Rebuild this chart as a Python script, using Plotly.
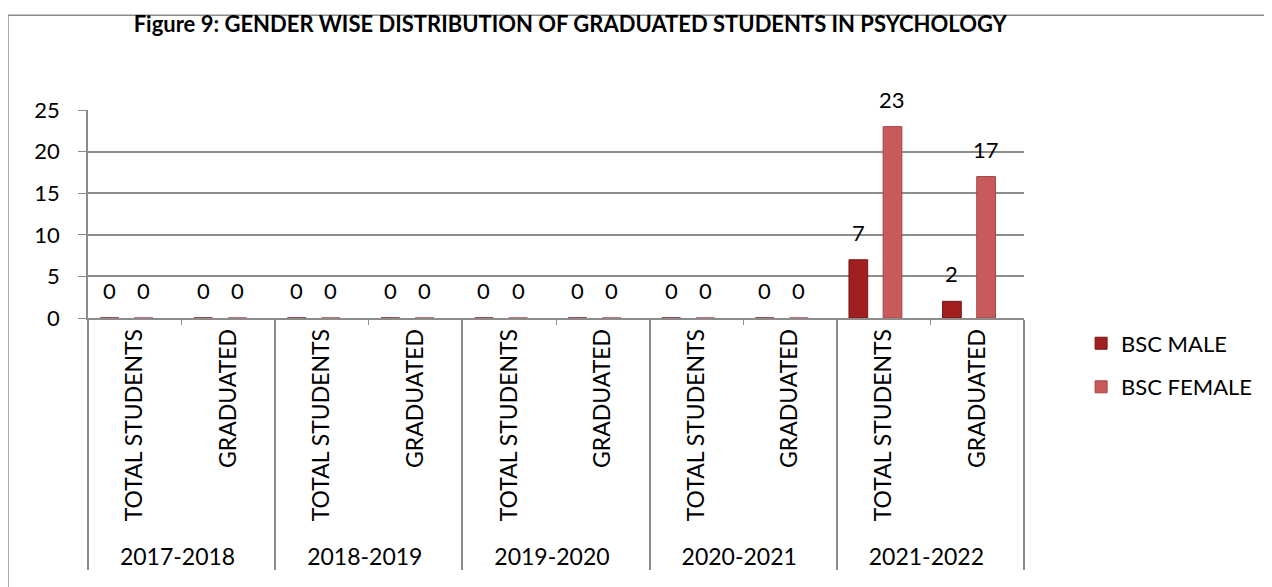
import plotly.graph_objects as go

years = ["2017-2018", "2018-2019", "2019-2020", "2020-2021", "2021-2022"]
stages = ["TOTAL STUDENTS", "GRADUATED"]
bsc_male = [0, 0, 0, 0, 0, 0, 0, 0, 7, 2]
bsc_female = [0, 0, 0, 0, 0, 0, 0, 0, 23, 17]

x_outer = [y for y in years for _ in stages]
x_inner = [s for _ in years for s in stages]

FONT = "Lato"
GRID = "#8c8c8c"
BAR_W = 0.2
OFFSETS = {"BSC MALE": -0.37, "BSC FEMALE": -0.005}

fig = go.Figure()
fig.add_trace(go.Bar(
    x=[x_outer, x_inner], y=bsc_male, name="BSC MALE", legendgroup="m",
    width=BAR_W, offset=OFFSETS["BSC MALE"],
    marker=dict(color="#a11f1f", line=dict(color="#7a1514", width=1)),
))
fig.add_trace(go.Bar(
    x=[x_outer, x_inner], y=bsc_female, name="BSC FEMALE", legendgroup="f",
    width=BAR_W, offset=OFFSETS["BSC FEMALE"],
    marker=dict(color="#c85a5c", line=dict(color="#a84446", width=1)),
))

# data labels sitting a little above each bar, like the original
annotations = []
for name, vals in [("BSC MALE", bsc_male), ("BSC FEMALE", bsc_female)]:
    for i, v in enumerate(vals):
        annotations.append(dict(
            x=i + OFFSETS[name] + BAR_W / 2, y=v, xref="x", yref="y",
            text=str(v), showarrow=False, yanchor="bottom", yshift=12,
            font=dict(size=22, family=FONT, color="black"),
        ))

fig.update_layout(
    width=1272, height=587,
    margin=dict(l=80, r=256, t=102, b=277),
    paper_bgcolor="white", plot_bgcolor="white",
    font=dict(family=FONT, size=22, color="black"),
    title=dict(text="<b>Figure 9: GENDER WISE DISTRIBUTION OF GRADUATED STUDENTS IN PSYCHOLOGY</b>",
               x=0.442, xanchor="center", y=0.973, yanchor="middle",
               font=dict(size=22, family=FONT)),
    barmode="group",
    showlegend=True,
    legend=dict(x=1.061, y=-0.228, xanchor="left", yanchor="middle",
                font=dict(size=22), itemwidth=30, tracegroupgap=12),
    annotations=annotations,
    shapes=[dict(type="rect", xref="paper", yref="paper",
                 x0=-0.0855, x1=1.3, y0=-1.6, y1=1.456,
                 line=dict(color="#8c8c8c", width=1.5))],
)
fig.update_yaxes(range=[0, 25], dtick=5, showgrid=True, gridcolor=GRID, gridwidth=1.5,
                 showline=True, linecolor=GRID, linewidth=1.5,
                 ticks="outside", ticklen=8, tickcolor=GRID, zeroline=False,
                 ticklabelstandoff=14, tickfont=dict(size=22))
fig.update_xaxes(type="multicategory", range=[-0.5, 9.5],
                 showline=True, linecolor=GRID, linewidth=1.5,
                 tickangle=-90, showdividers=True, dividercolor=GRID, dividerwidth=1.5,
                 tickfont=dict(size=23), ticks="outside", tickcolor=GRID)

fig.write_html("out.html")
